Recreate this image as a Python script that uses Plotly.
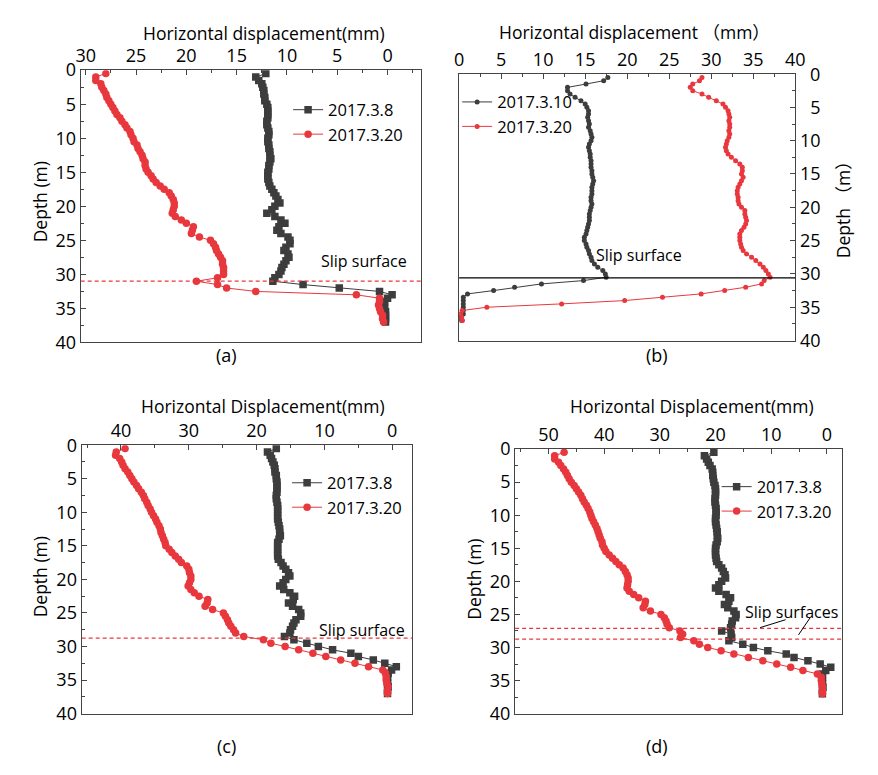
import plotly.graph_objects as go

# ---------------- data ----------------
depth = [0.5, 1, 1.5, 2, 2.5, 3, 3.5, 4, 4.5, 5, 5.5, 6, 6.5, 7, 7.5, 8, 8.5, 9, 9.5, 10,
         10.5, 11, 11.5, 12, 12.5, 13, 13.5, 14, 14.5, 15, 15.5, 16, 16.5, 17, 17.5, 18, 18.5, 19, 19.5, 20,
         20.5, 21, 21.5, 22, 22.5, 23, 23.5, 24, 24.5, 25, 25.5, 26, 26.5, 27, 27.5, 28, 28.5, 29, 29.5, 30,
         30.5, 31, 31.5, 32, 32.5, 33, 33.5, 34, 34.5, 35, 35.5, 36, 36.5, 37]

a_0308 = [12.1, 13.1, 12.8, 12.5, 12.4, 12.3, 12.3, 12.2, 12.2, 12.0, 11.9, 11.9, 11.9, 11.9, 12.0, 12.0, 11.9, 11.8, 11.8, 11.9,
          11.9, 11.8, 11.8, 11.7, 11.7, 11.6, 11.7, 11.8, 11.8, 11.9, 11.9, 11.9, 11.8, 11.7, 11.5, 11.3, 11.1, 10.9, 10.7, 11.2,
          11.5, 12.0, 11.2, 10.6, 10.2, 10.8, 11.0, 10.6, 9.9, 9.7, 9.7, 10.1, 10.3, 9.9, 9.8, 10.1, 10.3, 10.5, 10.6, 10.8,
          11.2, 11.4, 8.4, 4.8, 0.8, -0.45, 0.0, 0.3, 0.3, 0.3, 0.2, 0.2, 0.2, 0.2]
a_0320 = [28.0, 29.0, 29.0, 28.5, 28.4, 28.2, 28.0, 27.9, 27.7, 27.5, 27.3, 27.1, 26.9, 26.6, 26.4, 26.1, 25.9, 25.6, 25.5, 25.3,
          25.2, 24.9, 24.8, 24.6, 24.4, 24.3, 24.1, 24.1, 24.0, 23.8, 23.5, 23.3, 23.0, 22.6, 22.2, 21.7, 21.5, 21.3, 21.2, 21.2,
          21.3, 21.4, 21.1, 20.5, 20.0, 19.3, 19.4, 19.5, 18.7, 17.6, 17.3, 17.1, 17.0, 16.8, 16.6, 16.4, 16.4, 16.3, 16.3, 16.3,
          16.9, 19.0, 16.9, 16.0, 13.1, 3.1, 0.8, 0.8, 0.9, 0.8, 0.7, 0.5, 0.5, 0.4]

b_0310 = [17.7, 17.2, 15.1, 12.9, 12.9, 13.2, 13.8, 14.5, 15.0, 15.2, 15.4, 15.4, 15.3, 15.4, 15.5, 15.4, 15.6, 15.7, 15.8, 15.7,
          15.5, 15.4, 15.5, 15.6, 15.6, 15.7, 15.7, 15.7, 15.8, 15.8, 15.9, 16.0, 15.9, 15.8, 15.8, 15.8, 15.7, 15.7, 15.8, 15.7,
          15.6, 15.5, 15.5, 15.5, 15.4, 15.3, 15.2, 15.1, 14.9, 14.9, 15.1, 15.2, 15.4, 15.5, 15.7, 15.8, 16.1, 16.5, 17.1, 17.4,
          17.5, 14.8, 9.8, 6.6, 4.1, 1.0, 0.5, 0.5, 0.5, 0.5, 0.5, 0.5, 0.2, 0.3]
b_0320 = [28.9, 28.6, 27.8, 27.5, 27.8, 28.9, 29.7, 30.6, 31.4, 31.7, 32.0, 32.1, 32.2, 32.1, 32.2, 32.2, 32.1, 32.2, 32.1, 31.9,
          31.8, 31.7, 31.8, 32.0, 32.4, 32.9, 33.4, 33.7, 33.7, 33.6, 33.8, 33.6, 33.4, 33.2, 33.1, 33.1, 33.2, 33.2, 33.3, 33.6,
          34.0, 34.0, 34.1, 34.2, 34.1, 33.9, 33.6, 33.4, 33.4, 33.4, 33.5, 33.6, 33.8, 34.2, 34.8, 35.3, 35.8, 36.2, 36.5, 36.8,
          37.0, 36.3, 36.0, 34.1, 31.6, 28.8, 24.2, 19.7, 12.2, 3.3, 0.35, 0.2, 0.3, 0.4]

c_0308 = [17.1, 18.4, 18.0, 17.8, 17.6, 17.4, 17.3, 17.3, 17.1, 17.1, 17.0, 17.0, 17.0, 17.0, 17.1, 17.1, 17.0, 16.9, 16.9, 16.9,
          16.9, 16.9, 16.8, 16.7, 16.6, 16.6, 16.5, 16.7, 16.9, 16.9, 16.9, 16.9, 16.9, 16.8, 16.4, 16.1, 15.7, 15.3, 15.1, 15.7,
          16.1, 16.6, 16.0, 15.1, 14.4, 14.6, 15.3, 14.7, 13.8, 13.5, 13.5, 14.2, 14.5, 14.7, 15.0, 15.1, 15.9, 14.5, 12.6, 10.9,
          8.8, 6.1, 5.0, 2.8, 1.1, -0.6, 0.1, 0.6, 0.7, 0.7, 0.7, 0.6, 0.7, 0.7]
c_0320 = [39.4, 40.7, 40.8, 40.2, 39.9, 39.7, 39.4, 39.0, 38.7, 38.4, 38.1, 37.7, 37.4, 37.0, 36.7, 36.5, 36.2, 36.0, 35.7, 35.5,
          35.2, 34.9, 34.7, 34.4, 34.2, 34.1, 33.9, 33.7, 33.5, 33.4, 32.9, 32.5, 32.0, 31.5, 31.1, 30.3, 30.0, 29.9, 29.7, 29.7,
          29.9, 30.1, 29.7, 29.2, 28.5, 27.2, 27.3, 27.6, 26.5, 24.9, 24.6, 24.3, 24.1, 23.8, 23.4, 23.1, 21.9, 19.0, 17.9, 15.8,
          13.8, 11.7, 9.8, 7.6, 5.5, 3.5, 1.4, 1.0, 0.9, 0.9, 0.8, 0.6, 0.7, 0.7]

d_0308 = [20.3, 22.0, 21.6, 21.3, 21.0, 20.6, 20.5, 20.5, 20.4, 20.3, 20.1, 20.0, 20.0, 20.0, 20.1, 20.1, 20.0, 19.9, 19.9, 19.9,
          20.0, 20.0, 19.9, 19.8, 19.7, 19.7, 19.6, 19.7, 19.9, 20.0, 20.0, 20.0, 19.9, 19.8, 19.4, 18.9, 18.6, 18.3, 18.2, 18.9,
          19.4, 20.0, 19.4, 18.1, 17.3, 17.6, 18.4, 17.8, 16.7, 16.3, 16.4, 17.0, 17.1, 17.3, 18.9, 17.2, 17.1, 17.6, 15.1, 13.2,
          10.6, 7.3, 5.9, 3.4, 1.2, -0.7, 0.2, 0.8, 0.8, 0.8, 0.8, 0.7, 0.8, 0.8]
d_0320 = [47.2, 48.9, 48.9, 48.2, 47.8, 47.3, 46.9, 46.6, 46.3, 45.9, 45.4, 45.0, 44.6, 44.2, 43.9, 43.6, 43.2, 42.9, 42.6, 42.4,
          42.2, 41.9, 41.6, 41.3, 41.1, 40.9, 40.7, 40.4, 40.3, 40.0, 39.7, 39.1, 38.5, 37.9, 37.3, 36.6, 36.2, 35.9, 35.7, 35.7,
          35.8, 35.9, 35.5, 34.7, 33.8, 32.6, 32.7, 33.0, 31.7, 29.8, 29.2, 28.9, 28.7, 28.3, 26.4, 25.9, 26.3, 23.9, 22.9, 21.4,
          19.0, 16.7, 14.1, 11.5, 9.0, 6.5, 4.3, 1.7, 1.0, 1.0, 0.9, 0.8, 0.8, 0.8]

slip_a = [31.0]
slip_b = [30.6]
slip_c = [28.75]
slip_d = [27.1, 28.75]

depth_ticks = [0, 5, 10, 15, 20, 25, 30, 35, 40]
# right-side axis of (b): labels are right-aligned in the original; the "0" is placed as a
# separate text so it does not collide with the top "40" label
depth_ticktext_right = ["" if v == 0 else ("\u2007" + str(v) if v < 10 else str(v)) for v in depth_ticks]

# ---------------- styling ----------------
W, H = 878, 775
FONT = "'Open Sans', 'Noto Sans', 'Noto Sans CJK SC', sans-serif"
BLACK = "#3d3d3d"
RED = "#e8383d"
AXC = "#444444"


def px(x):
    return x / W


def py(y):
    return 1 - y / H


fig = go.Figure()

panels = [
    dict(k="", xd=(77, 423), yd=(59, 340), xr=[30.5, -3.3], xt=[30, 25, 20, 15, 10, 5, 0], xm=2.5,
         yside="left", small=False, s1=("2017.3.8", a_0308), s2=("2017.3.20", a_0320), leg="legend",
         legpos=(288, 82)),
    dict(k="2", xd=(462, 804), yd=(63, 338), xr=[0, 40], xt=[0, 5, 10, 15, 20, 25, 30, 35, 40], xm=2.5,
         yside="right", small=True, s1=("2017.3.10", b_0310), s2=("2017.3.20", b_0320), leg="legend2",
         legpos=(460, 74)),
    dict(k="3", xd=(78, 414), yd=(446, 723), xr=[45.8, -2.9], xt=[40, 30, 20, 10, 0], xm=5,
         yside="left", small=False, s1=("2017.3.8", c_0308), s2=("2017.3.20", c_0320), leg="legend3",
         legpos=(287, 467)),
    dict(k="4", xd=(519, 852), yd=(450, 723), xr=[56, -2.8], xt=[50, 40, 30, 20, 10, 0], xm=5,
         yside="left", small=False, s1=("2017.3.8", d_0308), s2=("2017.3.20", d_0320), leg="legend4",
         legpos=(724, 471)),
]

layout_axes = {}
for p in panels:
    k = p["k"]
    msz = 5 if p["small"] else 7.5
    sym1 = "circle" if p["small"] else "square"
    fig.add_trace(go.Scatter(
        x=p["s1"][1], y=depth, name=p["s1"][0], mode="lines+markers",
        xaxis="x" + k, yaxis="y" + k, legend=p["leg"],
        line=dict(color=BLACK, width=1),
        marker=dict(symbol=sym1, size=msz, color=BLACK)))
    fig.add_trace(go.Scatter(
        x=p["s2"][1], y=depth, name=p["s2"][0], mode="lines+markers",
        xaxis="x" + k, yaxis="y" + k, legend=p["leg"],
        line=dict(color=RED, width=1),
        marker=dict(symbol="circle", size=msz, color=RED)))

    layout_axes["xaxis" + k] = dict(
        domain=[px(p["xd"][0]), px(p["xd"][1])], anchor="y" + k, side="top",
        range=p["xr"], tickmode="array", tickvals=p["xt"],
        ticks="inside", ticklen=5, tickwidth=1, tickcolor=AXC,
        minor=dict(ticks="inside", ticklen=3, dtick=p["xm"], tick0=0, tickcolor=AXC),
        showline=True, linecolor=AXC, linewidth=1.2, mirror=True,
        showgrid=False, zeroline=False,
        tickfont=dict(family=FONT, size=18, color="black"))
    ytext = depth_ticktext_right if p["yside"] == "right" else [str(v) for v in depth_ticks]
    layout_axes["yaxis" + k] = dict(
        domain=[py(p["yd"][1]), py(p["yd"][0])], anchor="x" + k, side=p["yside"],
        range=[40, 0], tickmode="array", tickvals=depth_ticks, ticktext=ytext,
        ticks="inside", ticklen=5, tickwidth=1, tickcolor=AXC,
        minor=dict(ticks="inside", ticklen=3, dtick=2.5, tick0=0, tickcolor=AXC),
        showline=True, linecolor=AXC, linewidth=1.2, mirror=True,
        showgrid=False, zeroline=False,
        tickfont=dict(family=FONT, size=18, color="black"))
    layout_axes[p["leg"]] = dict(
        x=px(p["legpos"][0]), y=py(p["legpos"][1]), xanchor="left", yanchor="top",
        bgcolor="rgba(0,0,0,0)", font=dict(family=FONT, size=16.5, color="black"),
        tracegroupgap=0, itemwidth=30)

fig.update_layout(**layout_axes)

# slip surfaces
shapes = []
for ax, vals, dash, col in [("", slip_a, "4px,3px", RED), ("2", slip_b, "solid", "black"),
                            ("3", slip_c, "4px,3px", RED), ("4", slip_d, "4px,3px", RED)]:
    for v in vals:
        shapes.append(dict(type="line", xref=("x" + ax) + " domain", yref="y" + ax,
                           x0=0, x1=1, y0=v, y1=v,
                           line=dict(color=col, width=1.2, dash=dash)))
# leader lines for "Slip surfaces" in (d)
shapes.append(dict(type="line", xref="x4", yref="y4", x0=7.4, y0=25.8, x1=12.0, y1=27.0,
                   line=dict(color="black", width=1)))
shapes.append(dict(type="line", xref="x4", yref="y4", x0=3.0, y0=25.5, x1=5.1, y1=28.1,
                   line=dict(color="black", width=1)))

ann = []


def text(t, x, y, size=17.5, angle=0):
    ann.append(dict(text=t, x=px(x), y=py(y), xref="paper", yref="paper", showarrow=False,
                    textangle=angle, xanchor="center", yanchor="middle",
                    font=dict(family=FONT, size=size, color="black")))


text("Horizontal displacement(mm)", 263, 21)
text("Depth (m)", 36, 195, angle=-90)
text("Slip surface", 365, 256, size=16)
text("(a)", 225, 353, size=18)

text("Horizontal displacement （mm）", 640, 20)
text("Depth （m）", 852, 198, angle=-90)
text("Slip surface", 645, 250, size=16)
text("(b)", 663, 353, size=18)
ann.append(dict(text="0", x=px(831), y=0, xref="paper", yref="y2", showarrow=False,
                xanchor="right", yanchor="middle",
                font=dict(family=FONT, size=18, color="black")))

text("Horizontal Displacement(mm)", 262, 406)
text("Depth (m)", 36, 582, angle=-90)
text("Slip surface", 363, 637, size=16)
text("(c)", 225, 756, size=18)

text("Horizontal Displacement(mm)", 699, 406)
text("Depth (m)", 477, 584, angle=-90)
text("Slip surfaces", 800, 618, size=16)
text("(d)", 663, 756, size=18)

fig.update_layout(
    width=W, height=H, margin=dict(l=0, r=0, t=0, b=0),
    paper_bgcolor="white", plot_bgcolor="white",
    shapes=shapes, annotations=ann, showlegend=True,
    font=dict(family=FONT, color="black"))

fig.write_html("out.html")
